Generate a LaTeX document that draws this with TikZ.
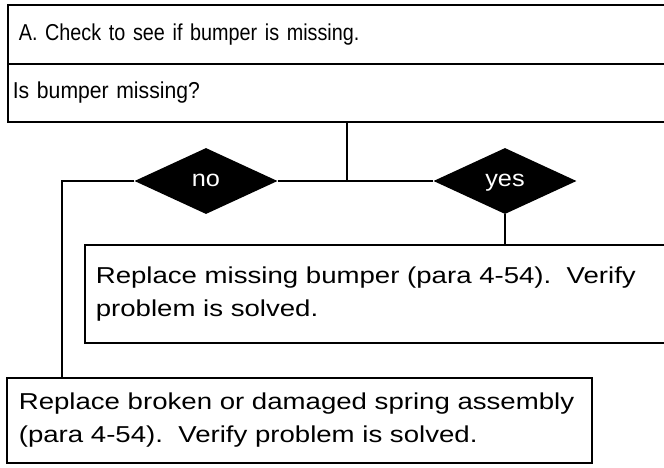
\documentclass[tikz,border=0pt]{standalone}
\usepackage{fontspec}
\setmainfont{Liberation Sans}
\newfontfamily\rowfont{Liberation Sans}[FakeStretch=0.86]
\newfontfamily\qfont{Liberation Sans}[FakeStretch=0.92]
\newfontfamily\boxfont{Liberation Sans}[FakeStretch=1.2]
\newfontfamily\labfont{Liberation Sans}[FakeStretch=1.1]
\usetikzlibrary{shapes.geometric}
\tikzset{
  conn/.style={line width=1.7pt},
  rowbox/.style={draw, line width=1.7pt, rectangle, anchor=north west,
    align=left, font=\rowfont\fontsize{23}{33}\selectfont},
  stepbox/.style={draw, line width=1.7pt, rectangle, anchor=north west,
    align=left, font=\boxfont\fontsize{23}{33}\selectfont},
  answer/.style={diamond, fill=black, draw=none, inner sep=0pt,
    minimum width=143pt, minimum height=66pt, text=white,
    text height=11.5pt, text depth=0pt,
    font=\labfont\fontsize{23}{28}\selectfont}
}
\begin{document}
\begin{tikzpicture}[x=1pt, y=-1pt]
\useasboundingbox (0,0) rectangle (664,467);
\clip (0,0) rectangle (664,467);
% top rows
\node[rowbox, text width=690pt, inner xsep=11pt, inner ysep=0pt, minimum height=59pt]
  (check) at (7,4) {A. Check to see if bumper is missing.};
\node[rowbox, font=\qfont\fontsize{23}{33}\selectfont, text width=702pt, inner xsep=5pt, inner ysep=0pt, minimum height=58pt]
  (q) at (7,63) {Is bumper missing?};
% decisions
\node[answer] (no) at (206,181) {no};
\node[answer] (yes) at (505,181) {yes};
% action boxes
\node[stepbox, text width=620pt, inner xsep=11pt, inner ysep=0pt, minimum height=98pt]
  (repl) at (84,244) {\parbox{558pt}{Replace missing bumper (para 4-54).\ \ Verify problem is solved.}};
\node[stepbox, text width=561pt, inner xsep=12pt, inner ysep=0pt, minimum height=85pt]
  (fix) at (6,377) {\parbox{561pt}{Replace broken or damaged spring assembly (para 4-54).\ \ Verify problem is solved.}};
% connectors
\coordinate (j) at (347,181);
\coordinate (c) at (62,181);
\draw[conn] (q.south -| j) -- (j);
\draw[conn] (no.east) -- (yes.west);
\draw[conn] (no.west) -- (c) -- (c |- fix.north);
\draw[conn] (yes.south) -- (yes.south |- repl.north);
\end{tikzpicture}
\end{document}
